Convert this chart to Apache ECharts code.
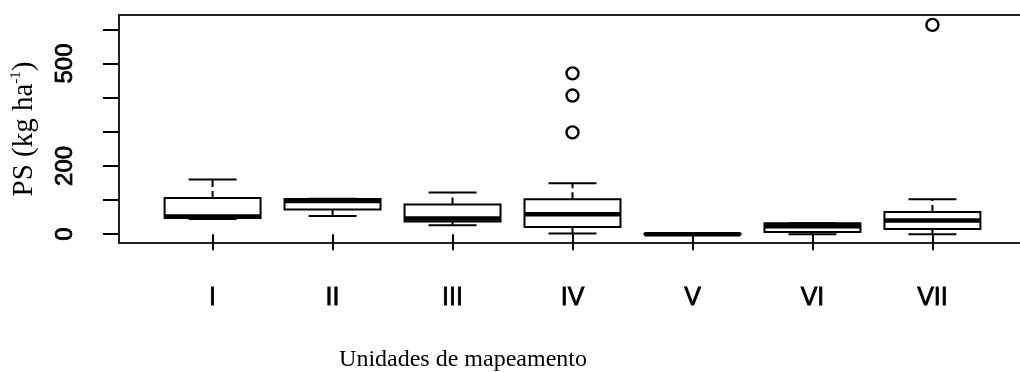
<!DOCTYPE html>
<html>
<head>
<meta charset="utf-8">
<script src="https://cdn.jsdelivr.net/npm/echarts@6/dist/echarts.min.js"></script>
<style>
html,body{margin:0;padding:0;background:#fff;overflow:hidden;}
#chart{width:1020px;height:372px;}
</style>
</head>
<body>
<div id="chart"></div>
<script>
// ---- data ----
const categories = ['I', 'II', 'III', 'IV', 'V', 'VI', 'VII'];
const mins    = [44, 53, 26, 2, 0, 0, 0];
const q1s     = [47, 72, 37, 21, 0, 6, 15];
const medians = [52, 97, 46, 58, 0, 23, 40];
const q3s     = [106, 103, 87, 102, 1, 32, 65];
const maxs    = [160, 104, 122, 149, 1, 32, 102];
const outlierCategory = ['IV', 'IV', 'IV', 'VII'];
const outlierValues   = [471, 406, 298, 613];
const yTickValues  = [0, 100, 200, 300, 400, 500, 600];
const yLabelValues = [0, 200, 500];

// build series data (x position = category index + 1)
const boxData = categories.map((c, i) => [i + 1, mins[i], q1s[i], medians[i], q3s[i], maxs[i]]);
const outlierData = outlierValues.map((v, i) => [categories.indexOf(outlierCategory[i]) + 1, v]);
const xPositions = categories.map((c, i) => i + 1);

const chart = echarts.init(document.getElementById('chart'), null, {renderer: 'canvas'});

function renderBox(params, api) {
  const x = api.value(0);
  const vmin = api.value(1), vq1 = api.value(2), vmed = api.value(3), vq3 = api.value(4), vmax = api.value(5);
  const boxW = api.size([0.8, 0])[0];
  const capW = api.size([0.4, 0])[0];
  const pMin = api.coord([x, vmin]);
  const pQ1 = api.coord([x, vq1]);
  const pMed = api.coord([x, vmed]);
  const pQ3 = api.coord([x, vq3]);
  const pMax = api.coord([x, vmax]);
  const cx = pMed[0];
  const lineStyle = {stroke: '#000', lineWidth: 2};
  const dashStyle = {stroke: '#000', lineWidth: 2, lineDash: [7, 4]};
  return {
    type: 'group',
    children: [
      {type: 'line', shape: {x1: cx, y1: pQ3[1], x2: cx, y2: pMax[1]}, style: dashStyle},
      {type: 'line', shape: {x1: cx, y1: pQ1[1], x2: cx, y2: pMin[1]}, style: dashStyle},
      {type: 'rect', shape: {x: cx - boxW / 2, y: pQ3[1], width: boxW, height: pQ1[1] - pQ3[1]},
        style: {fill: '#fff', stroke: '#000', lineWidth: 2}},
      {type: 'line', shape: {x1: cx - capW / 2, y1: pMax[1], x2: cx + capW / 2, y2: pMax[1]}, style: lineStyle},
      {type: 'line', shape: {x1: cx - capW / 2, y1: pMin[1], x2: cx + capW / 2, y2: pMin[1]}, style: lineStyle},
      {type: 'line', shape: {x1: cx - boxW / 2, y1: pMed[1], x2: cx + boxW / 2, y2: pMed[1]},
        style: {stroke: '#000', lineWidth: 4.5}}
    ]
  };
}

const option = {
  backgroundColor: '#fff',
  animation: false,
  title: {
    text: 'Unidades de mapeamento',
    left: 458,
    textAlign: 'center',
    top: 343,
    textStyle: {fontFamily: '"Liberation Serif", "Times New Roman", serif', fontSize: 24, fontWeight: 'normal', color: '#000'}
  },
  grid: {
    left: 119, top: 15, width: 907, height: 228,
    outerBoundsMode: 'none',
    containLabel: false,
    show: true, borderColor: '#222', borderWidth: 2, backgroundColor: 'transparent'
  },
  xAxis: {
    type: 'value',
    min: 0.22, max: 7.78,
    splitLine: {show: false},
    axisLine: {show: false},
    axisTick: {show: true, length: 16, customValues: xPositions, lineStyle: {color: '#000', width: 2}},
    axisLabel: {
      customValues: xPositions,
      margin: 43,
      fontFamily: '"Liberation Sans", Arial, sans-serif',
      fontSize: 25, color: '#000',
      textBorderColor: '#000', textBorderWidth: 0.8,
      formatter: v => categories[Math.round(v) - 1] || ''
    }
  },
  yAxis: {
    type: 'value',
    min: -26, max: 642,
    name: '{n|PS (kg ha}{s|-1}{n|)}',
    nameLocation: 'middle',
    nameGap: 80,
    nameRotate: 90,
    nameTextStyle: {
      rich: {
        n: {fontFamily: '"Liberation Serif", "Times New Roman", serif', fontSize: 29, color: '#000', lineHeight: 30},
        s: {fontFamily: '"Liberation Serif", "Times New Roman", serif', fontSize: 15, color: '#000', verticalAlign: 'top', lineHeight: 30}
      }
    },
    splitLine: {show: false},
    axisLine: {show: false},
    axisTick: {show: true, length: 16, customValues: yTickValues, lineStyle: {color: '#000', width: 2}},
    axisLabel: {
      customValues: yLabelValues,
      rotate: 90,
      margin: 42,
      fontFamily: '"Liberation Sans", Arial, sans-serif',
      fontSize: 24, color: '#000',
      textBorderColor: '#000', textBorderWidth: 0.8
    }
  },
  series: [
    {
      type: 'custom',
      renderItem: renderBox,
      data: boxData,
      encode: {x: 0, y: [1, 2, 3, 4, 5]},
      clip: false
    },
    {
      type: 'scatter',
      data: outlierData,
      symbol: 'circle',
      symbolSize: 12,
      itemStyle: {color: '#fff', borderColor: '#000', borderWidth: 2.4, opacity: 1}
    }
  ]
};
chart.setOption(option);
</script>
</body>
</html>
